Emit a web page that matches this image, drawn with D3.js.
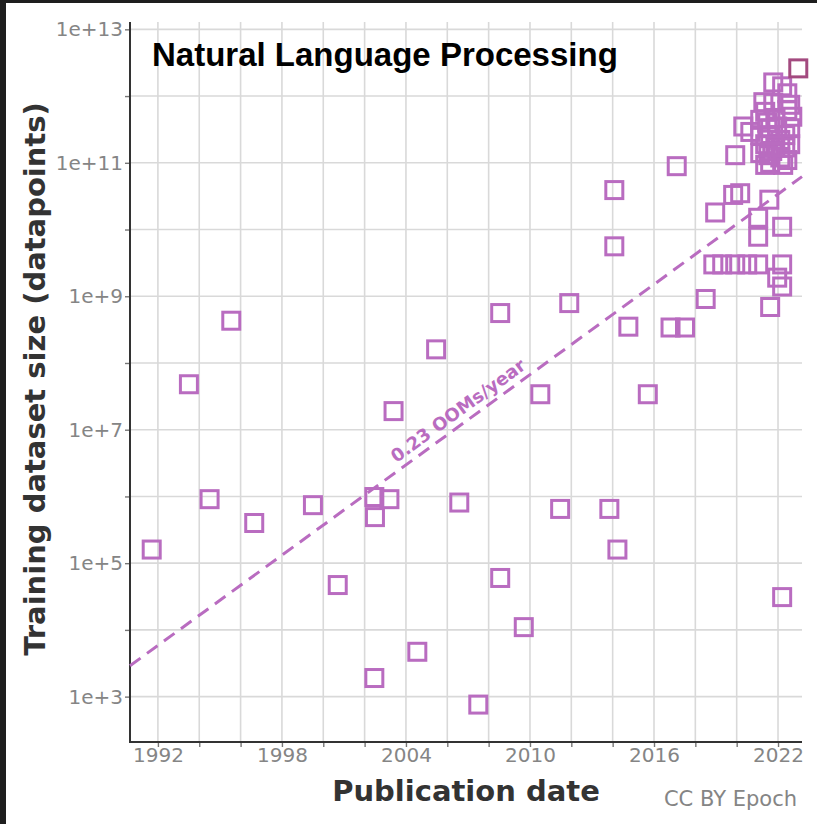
<!DOCTYPE html>
<html>
<head>
<meta charset="utf-8">
<script src="https://cdn.jsdelivr.net/npm/d3@7"></script>
<style>
  body { margin: 0; background: #1e1e1e; }
  svg { display: block; }
</style>
</head>
<body>
<svg id="canvas" width="817" height="824"></svg>
<script>
// publication year (decimal) and training dataset size
let years = [
  1991.7, 1993.5, 1994.5, 1995.55, 1996.66, 1999.5, 2000.7, 2002.47, 2002.5, 2003.2,
  2003.4, 2002.47, 2004.55, 2005.46, 2006.58, 2007.5, 2008.56, 2008.56, 2009.7, 2010.5,
  2011.46, 2011.9, 2013.84, 2014.08, 2014.08, 2014.23, 2014.76, 2015.7, 2017.1, 2016.8,
  2017.5, 2018.5, 2022.2,
  2021.77, 2022.2, 2022.45, 2021.29, 2021.77, 2022.45, 2022.69, 2021.14, 2020.32, 2020.66,
  2021.48, 2021.96, 2022.59, 2021.62, 2022.11, 2021.38, 2021.87, 2022.35, 2021.53, 2022.11,
  2019.93, 2021.62, 2022.45, 2021.14,
  2021.38, 2021.87, 2022.35, 2022.59, 2021.14, 2021.62, 2021.72, 2022.25, 2021.38, 2022.59,
  2018.96, 2019.83, 2020.17, 2021.58, 2021.04, 2022.2, 2021.04,
  2018.87, 2019.3, 2019.93, 2020.51, 2021.04, 2022.2, 2021.96, 2022.2, 2021.62
]
let sizes = [
  1.6e5, 4.8e7, 9.1e5, 4.3e8, 4.0e5, 7.4e5, 4.7e4, 9.8e5, 4.9e5, 9.1e5,
  1.9e7, 1.9e3, 4.7e3, 1.6e8, 8.1e5, 7.6e2, 5.6e8, 6.0e4, 1.1e4, 3.4e7,
  6.5e5, 7.9e8, 6.5e5, 3.9e10, 5.6e9, 1.6e5, 3.5e8, 3.4e7, 8.9e10, 3.4e8,
  3.4e8, 9.1e8, 3.1e4,
  1.6e12, 1.4e12, 1.1e12, 8.1e11, 7.9e11, 6.2e11, 4.9e11, 4.4e11, 3.5e11, 2.9e11,
  4.0e11, 3.5e11, 3.3e11, 2.5e11, 2.2e11, 1.9e11, 1.7e11, 1.7e11, 1.3e11, 1.2e11,
  1.3e11, 1.0e11, 1.1e11, 1.4e11,
  5.8e11, 4.7e11, 2.6e11, 1.9e11, 2.6e11, 3.3e11, 1.5e11, 9.3e10, 9.3e10, 7.4e11,
  1.8e10, 3.3e10, 3.5e10, 2.8e10, 1.5e10, 1.1e10, 7.8e9,
  3.0e9, 3.0e9, 3.0e9, 3.0e9, 3.0e9, 3.0e9, 1.9e9, 1.4e9, 6.9e8
]

// the most recent system, drawn in a darker colour
let latestYear = [2022.98]
let latestSize = [2.6e12]

// fitted trend: two end points
let trendYears = [1990.65, 2023.16]
let trendSizes = [2.9e3, 6.2e10]
let trendLabel = '0.23 OOMs/year'
let trendLabelYear = 2006.9

let yLabelTicks = [1e3, 1e5, 1e7, 1e9, 1e11, 1e13]
let yGridTicks = [1e3, 1e4, 1e5, 1e6, 1e7, 1e8, 1e9, 1e10, 1e11, 1e12, 1e13]
let xLabelTicks = [1992, 1998, 2004, 2010, 2016, 2022]
let xGridTicks = d3.range(1992, 2023, 2)

let purple = '#b96cc0'
let darkPurple = '#a34a7f'

let svg = d3.select('#canvas')

svg.append('rect')
    .attr('x', 6).attr('y', 3)
    .attr('width', 811).attr('height', 821)
    .attr('fill', 'white')

let plotLeft = 130, plotRight = 802, plotTop = 22, plotBottom = 742

let xScale = d3.scaleLinear()
                .domain([1990.65, 2023.16])
                .range([plotLeft, plotRight])

let yScale = d3.scaleLog()
                .domain([Math.pow(10, 2.32), Math.pow(10, 13.11)])
                .range([plotBottom, plotTop])

// grid
svg.append('g')
    .selectAll('line')
    .data(xGridTicks)
    .enter()
    .append('line')
    .attr('x1', (d) => xScale(d)).attr('x2', (d) => xScale(d))
    .attr('y1', plotTop).attr('y2', plotBottom)
    .attr('stroke', '#d9d9d9').attr('stroke-width', 1.6)

svg.append('g')
    .selectAll('line')
    .data(yGridTicks)
    .enter()
    .append('line')
    .attr('x1', plotLeft).attr('x2', plotRight)
    .attr('y1', (d) => yScale(d)).attr('y2', (d) => yScale(d))
    .attr('stroke', '#d9d9d9').attr('stroke-width', 1.6)

// axes
let xAxis = d3.axisBottom(xScale)
                .tickValues(xGridTicks)
                .tickSize(5)
                .tickFormat((d) => xLabelTicks.includes(d) ? d : '')

let yAxis = d3.axisLeft(yScale)
                .tickValues(yGridTicks)
                .tickSize(5)
                .tickFormat((d) => yLabelTicks.includes(d) ? '1e+' + Math.round(Math.log10(d)) : '')

let gx = svg.append('g')
            .attr('transform', 'translate(0, ' + plotBottom + ')')
            .call(xAxis)
gx.select('.domain').remove()
gx.selectAll('line').attr('stroke', '#777').attr('stroke-width', 1.4)
gx.selectAll('text')
    .attr('fill', '#858585')
    .attr('font-family', 'DejaVu Sans')
    .attr('font-size', 20)
    .attr('dy', '0.75em')
    .attr('y', 5)

let gy = svg.append('g')
            .attr('transform', 'translate(' + plotLeft + ', 0)')
            .call(yAxis)
gy.select('.domain').remove()
gy.selectAll('line').attr('stroke', '#777').attr('stroke-width', 1.4)
gy.selectAll('text')
    .attr('fill', '#858585')
    .attr('font-family', 'DejaVu Sans')
    .attr('font-size', 20)
    .attr('x', -7)

svg.append('line')
    .attr('x1', plotLeft).attr('x2', plotLeft)
    .attr('y1', plotTop).attr('y2', plotBottom + 1)
    .attr('stroke', '#333').attr('stroke-width', 2)
svg.append('line')
    .attr('x1', plotLeft - 1).attr('x2', plotRight)
    .attr('y1', plotBottom).attr('y2', plotBottom)
    .attr('stroke', '#333').attr('stroke-width', 2)

// trend line
svg.append('line')
    .attr('x1', xScale(trendYears[0])).attr('y1', yScale(trendSizes[0]))
    .attr('x2', xScale(trendYears[1])).attr('y2', yScale(trendSizes[1]))
    .attr('stroke', purple)
    .attr('stroke-width', 3)
    .attr('stroke-dasharray', '13,8')

let dx = xScale(trendYears[1]) - xScale(trendYears[0])
let dy = yScale(trendSizes[1]) - yScale(trendSizes[0])
let angle = Math.atan2(dy, dx) * 180 / Math.PI
let slopeLog = (Math.log10(trendSizes[1]) - Math.log10(trendSizes[0])) / (trendYears[1] - trendYears[0])
let labelSize = Math.pow(10, Math.log10(trendSizes[0]) + slopeLog * (trendLabelYear - trendYears[0]))

svg.append('text')
    .attr('transform', 'translate(' + xScale(trendLabelYear) + ', ' + yScale(labelSize) + ') rotate(' + angle + ') translate(0, -7)')
    .attr('text-anchor', 'middle')
    .attr('font-family', 'DejaVu Sans')
    .attr('font-weight', 'bold')
    .attr('font-size', 18)
    .attr('fill', purple)
    .text(trendLabel)

// points
svg.append('g')
    .selectAll('rect')
    .data(d3.zip(years, sizes))
    .enter()
    .append('rect')
    .attr('x', (d) => xScale(d[0]) - 8.5)
    .attr('y', (d) => yScale(d[1]) - 8.5)
    .attr('width', 17).attr('height', 17)
    .attr('fill', 'none')
    .attr('stroke', purple)
    .attr('stroke-width', 3)

svg.append('g')
    .selectAll('rect')
    .data(d3.zip(latestYear, latestSize))
    .enter()
    .append('rect')
    .attr('x', (d) => xScale(d[0]) - 8.5)
    .attr('y', (d) => yScale(d[1]) - 8.5)
    .attr('width', 17).attr('height', 17)
    .attr('fill', 'none')
    .attr('stroke', darkPurple)
    .attr('stroke-width', 3)

// titles
svg.append('text')
    .attr('x', 152).attr('y', 66)
    .attr('font-family', 'Liberation Sans, Arial, sans-serif')
    .attr('font-weight', 'bold')
    .attr('font-size', 33)
    .attr('fill', 'black')
    .text('Natural Language Processing')

svg.append('text')
    .attr('x', 466).attr('y', 801)
    .attr('text-anchor', 'middle')
    .attr('font-family', 'DejaVu Sans')
    .attr('font-weight', 'bold')
    .attr('font-size', 29)
    .attr('fill', '#333')
    .text('Publication date')

svg.append('text')
    .attr('transform', 'translate(45, 379) rotate(-90)')
    .attr('text-anchor', 'middle')
    .attr('font-family', 'DejaVu Sans')
    .attr('font-weight', 'bold')
    .attr('font-size', 29)
    .attr('fill', '#333')
    .text('Training dataset size (datapoints)')

svg.append('text')
    .attr('x', 797).attr('y', 806)
    .attr('text-anchor', 'end')
    .attr('font-family', 'DejaVu Sans')
    .attr('font-size', 21)
    .attr('fill', '#858585')
    .text('CC BY Epoch')
</script>
</body>
</html>
